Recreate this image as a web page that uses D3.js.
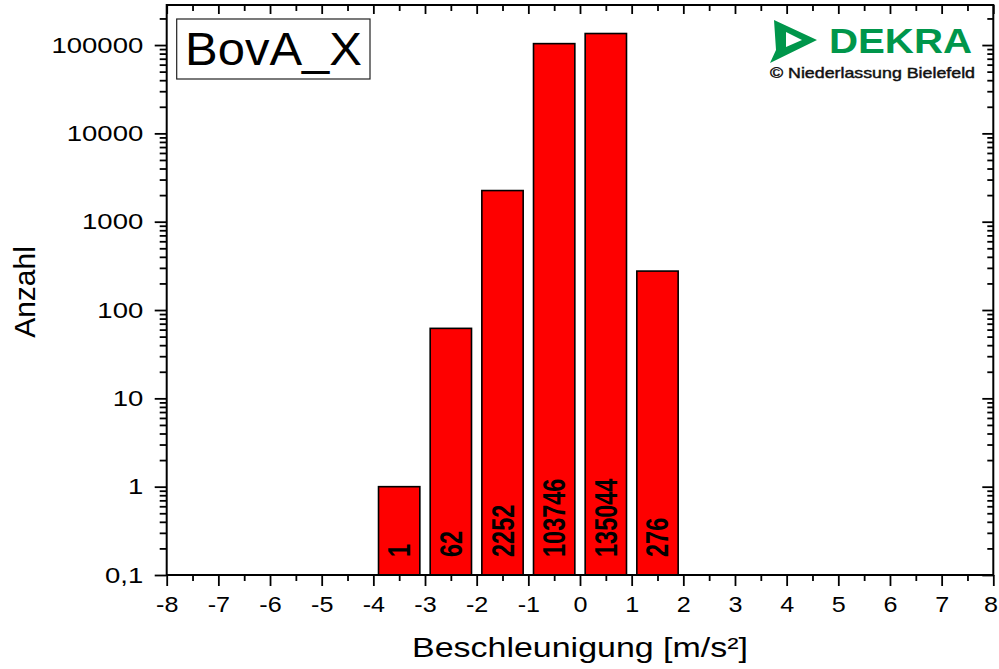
<!DOCTYPE html>
<html>
<head>
<meta charset="utf-8">
<script src="https://cdn.jsdelivr.net/npm/d3@7"></script>
<style>
body { margin: 0; background: #fff; }
text { font-family: "Liberation Sans", Arial, sans-serif; }
</style>
</head>
<body>
<svg id="chart"></svg>
<script>

/* histogram data: left edge of each 1 m/s² bin and its count */
var binStarts = [-4, -3, -2, -1, 0, 1];
var counts = [1, 62, 2252, 103746, 135044, 276];

/* tick labels */
var xTicks = [-8, -7, -6, -5, -4, -3, -2, -1, 0, 1, 2, 3, 4, 5, 6, 7, 8];
var yTicks = [0.1, 1, 10, 100, 1000, 10000, 100000];

var titleText = "BovA_X";
var xLabel = "Beschleunigung [m/s²]";
var yLabel = "Anzahl";

var svgWidth = 999, svgHeight = 669;
var plotLeft = 166.7, plotRight = 993.3, plotTop = 5, plotBottom = 575;
var stretch = 1.25;   // text in the source picture is a bit wider than Arial

var de = d3.formatLocale({decimal: ",", thousands: ".", grouping: [3], currency: ["", " €"], minus: "-"});
var fmt = de.format("");

var svg = d3.select("#chart")
    .attr("width", svgWidth)
    .attr("height", svgHeight);

svg.append("rect")
    .attr("width", svgWidth)
    .attr("height", svgHeight)
    .attr("fill", "#fff");

var x = d3.scaleLinear().domain([-8, 8]).range([plotLeft, plotRight]);
var y = d3.scaleLog().domain([0.1, 2.84e5]).range([plotBottom, plotTop]);

/* bars */
svg.selectAll("rect.bar")
    .data(counts)
    .enter()
    .append("rect")
    .attr("class", "bar")
    .attr("x", function(d, i) { return x(binStarts[i] + 0.1); })
    .attr("width", function(d, i) { return x(binStarts[i] + 0.9) - x(binStarts[i] + 0.1); })
    .attr("y", function(d) { return y(d); })
    .attr("height", function(d) { return y(0.1) - y(d); })
    .attr("fill", "#fe0000")
    .attr("stroke", "#000")
    .attr("stroke-width", 1.6);

/* value labels inside the bars, rotated */
svg.selectAll("text.val")
    .data(counts)
    .enter()
    .append("text")
    .attr("class", "val")
    .attr("transform", function(d, i) {
        return "translate(" + x(binStarts[i] + 0.5) + "," + (plotBottom - 18) + ") scale(1.3,1) rotate(-90)";
    })
    .attr("dy", "0.36em")
    .attr("font-size", 23.5)
    .attr("font-weight", "bold")
    .attr("fill", "#000")
    .text(function(d) { return d; });

/* axes */
var majorY = y.ticks().filter(function(v) { return yTicks.indexOf(v) !== -1; });
var minorY = y.ticks().filter(function(v) { return yTicks.indexOf(v) === -1; });
var minorX = d3.range(-7.5, 8, 1);

function styleTicks(g) {
    g.select(".domain").remove();
    g.selectAll("line").attr("stroke", "#000").attr("stroke-width", 1.8);
}

// bottom
svg.append("g")
    .attr("transform", "translate(0," + plotBottom + ")")
    .call(d3.axisBottom(x).tickValues(minorX).tickSize(6).tickFormat(""))
    .call(styleTicks);
var xAxis = svg.append("g")
    .attr("transform", "translate(0," + plotBottom + ")")
    .call(d3.axisBottom(x).tickValues(xTicks).tickSize(11).tickPadding(11).tickFormat(fmt))
    .call(styleTicks);
xAxis.selectAll("text")
    .attr("font-size", 21.5)
    .attr("font-family", "'Liberation Sans', Arial, sans-serif")
    .attr("fill", "#000")
    .attr("transform", "scale(1.17,1)")
    .attr("dx", function(d) { return d === 8 ? -2.5 : 0; });

// top (inward)
svg.append("g")
    .attr("transform", "translate(0," + plotTop + ")")
    .call(d3.axisTop(x).tickValues(minorX).tickSize(-6).tickFormat(""))
    .call(styleTicks);
svg.append("g")
    .attr("transform", "translate(0," + plotTop + ")")
    .call(d3.axisTop(x).tickValues(xTicks).tickSize(-9).tickFormat(""))
    .call(styleTicks);

// left
svg.append("g")
    .attr("transform", "translate(" + plotLeft + ",0)")
    .call(d3.axisLeft(y).tickValues(minorY).tickSize(7).tickFormat(""))
    .call(styleTicks);
var yAxis = svg.append("g")
    .attr("transform", "translate(" + plotLeft + ",0)")
    .call(d3.axisLeft(y).tickValues(majorY).tickSize(12).tickFormat(fmt))
    .call(styleTicks);
yAxis.selectAll("text")
    .attr("font-size", 22)
    .attr("font-family", "'Liberation Sans', Arial, sans-serif")
    .attr("fill", "#000")
    .attr("transform", "scale(" + stretch + ",1)")
    .attr("x", -23.5 / stretch);

// right (inward)
svg.append("g")
    .attr("transform", "translate(" + plotRight + ",0)")
    .call(d3.axisRight(y).tickValues(minorY).tickSize(-6).tickFormat(""))
    .call(styleTicks);
svg.append("g")
    .attr("transform", "translate(" + plotRight + ",0)")
    .call(d3.axisRight(y).tickValues(majorY).tickSize(-11).tickFormat(""))
    .call(styleTicks);

/* frame */
svg.append("rect")
    .attr("x", plotLeft)
    .attr("y", plotTop)
    .attr("width", plotRight - plotLeft)
    .attr("height", plotBottom - plotTop)
    .attr("fill", "none")
    .attr("stroke", "#000")
    .attr("stroke-width", 2);

/* axis titles */
svg.append("text")
    .attr("x", 580)
    .attr("y", 657)
    .attr("text-anchor", "middle")
    .attr("font-size", 28)
    .attr("textLength", 336)
    .attr("lengthAdjust", "spacingAndGlyphs")
    .attr("fill", "#000")
    .text(xLabel);

svg.append("text")
    .attr("transform", "translate(35,292) rotate(-90)")
    .attr("text-anchor", "middle")
    .attr("font-size", 30)
    .attr("fill", "#000")
    .text(yLabel);

/* title box */
svg.append("rect")
    .attr("x", 176.7)
    .attr("y", 19)
    .attr("width", 193.3)
    .attr("height", 60)
    .attr("fill", "#fff")
    .attr("stroke", "#222")
    .attr("stroke-width", 1.2);
svg.append("text")
    .attr("x", 185)
    .attr("y", 65)
    .attr("font-size", 46)
    .attr("textLength", 177)
    .attr("lengthAdjust", "spacingAndGlyphs")
    .attr("fill", "#000")
    .text(titleText);

/* DEKRA logo */
var green = "#00964b";
svg.append("path")
    .attr("d", "M774,20 L817,40 L770,63 L776,50 Z M786,32 L802,40 L786,47 Z")
    .attr("fill", green)
    .attr("fill-rule", "evenodd");
svg.append("text")
    .attr("x", 829)
    .attr("y", 53)
    .attr("font-size", 35)
    .attr("font-weight", "bold")
    .attr("textLength", 143)
    .attr("lengthAdjust", "spacingAndGlyphs")
    .attr("fill", green)
    .text("DEKRA");
svg.append("text")
    .attr("x", 770)
    .attr("y", 78)
    .attr("font-size", 15)
    .attr("textLength", 205)
    .attr("lengthAdjust", "spacingAndGlyphs")
    .attr("fill", "#111")
    .attr("stroke", "#111")
    .attr("stroke-width", 0.45)
    .text("© Niederlassung Bielefeld");

</script>
</body>
</html>
